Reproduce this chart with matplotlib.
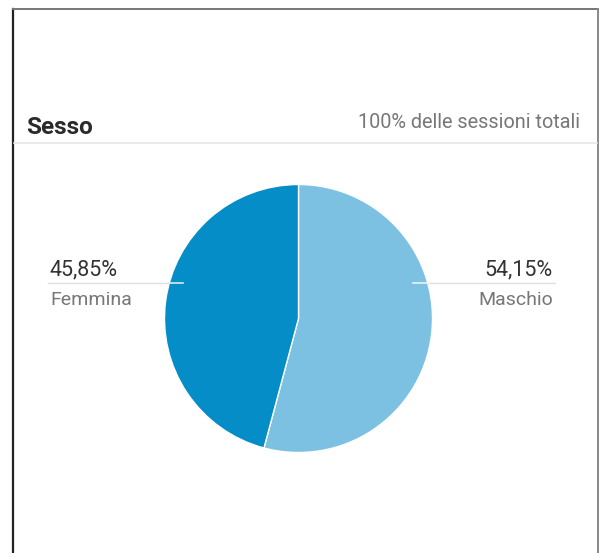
import matplotlib
matplotlib.use("Agg")
import matplotlib.pyplot as plt
from matplotlib.lines import Line2D

# ---- data ----
title = "Sesso"
subtitle = "100% delle sessioni totali"
categories = ["Maschio", "Femmina"]
values = [54.15, 45.85]
value_labels = ["54,15%", "45,85%"]
colors = ["#7cc1e1", "#058dc7"]

W, H = 600, 553
fig = plt.figure(figsize=(W / 100, H / 100), dpi=100)
fig.patch.set_facecolor("white")

# overlay axes in pixel coordinates (for text / frame)
ov = fig.add_axes([0, 0, 1, 1], zorder=0)
ov.set_xlim(0, W)
ov.set_ylim(H, 0)
ov.axis("off")

FONT = ["Roboto", "DejaVu Sans"]

# frame
ov.add_line(Line2D([13, 13], [9, H], color="#222222", lw=1.6))
ov.add_line(Line2D([13, 598], [9, 9], color="#777777", lw=1.4))
ov.add_line(Line2D([598, 598], [9, H], color="#888888", lw=1.4))

# header
ov.text(26, 133.5, title, fontsize=17.5, fontweight="bold", color="#2a2a2a",
        family=FONT, va="baseline", ha="left")
ov.text(580, 128.5, subtitle, fontsize=14.3, color="#777777",
        family=FONT, va="baseline", ha="right")
ov.add_line(Line2D([14, 597], [142.5, 142.5], color="#e6e6e6", lw=1.2))

# pie
cx, cy, r = 298.5, 318.5, 134
pie_ax = fig.add_axes([(cx - r) / W, (H - cy - r) / H, 2 * r / W, 2 * r / H], zorder=1)
pie_ax.pie(values, colors=colors, startangle=90, counterclock=False,
           wedgeprops=dict(edgecolor="white", linewidth=1.0))
pie_ax.set_aspect("equal")
pie_ax.set_xlim(-1, 1)
pie_ax.set_ylim(-1, 1)
pie_ax.axis("off")

# leader lines (on top of pie)
top = fig.add_axes([0, 0, 1, 1], zorder=2)
top.set_xlim(0, W)
top.set_ylim(H, 0)
top.axis("off")
ly = 283
top.add_line(Line2D([48, 168], [ly, ly], color="#e0e0e0", lw=1.0))
top.add_line(Line2D([168, 183], [ly, ly], color="#d8eef8", lw=1.2))
top.add_line(Line2D([429, 555], [ly, ly], color="#e0e0e0", lw=1.0))
top.add_line(Line2D([413, 429], [ly, ly], color="#e8f4fa", lw=1.2))

# labels
top.text(50, 275.5, value_labels[1], fontsize=15.5, color="#333333", family=FONT,
         va="baseline", ha="left")
top.text(50, 305, categories[1], fontsize=14, color="#777777", family=FONT,
         va="baseline", ha="left")
top.text(553, 275.5, value_labels[0], fontsize=15.5, color="#333333", family=FONT,
         va="baseline", ha="right")
top.text(553, 305, categories[0], fontsize=14, color="#777777", family=FONT,
         va="baseline", ha="right")

fig.savefig("out.png", dpi=100, facecolor="white")
